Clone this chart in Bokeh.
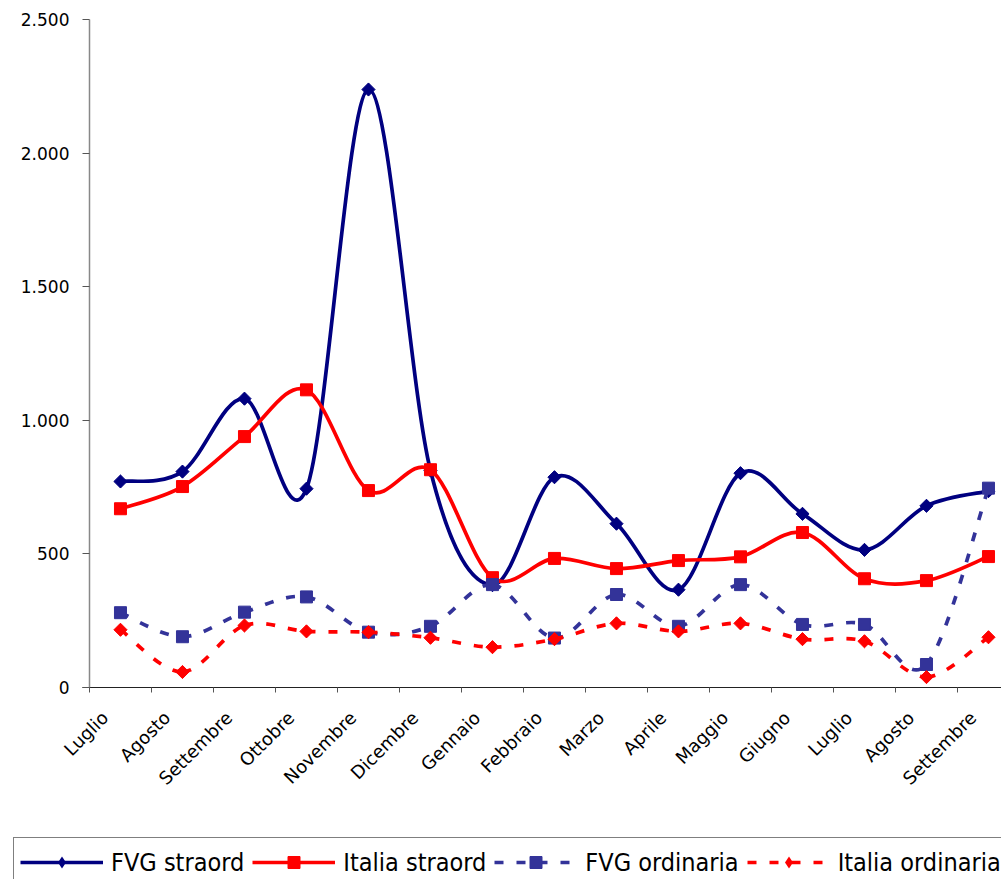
import math
import numpy as np
from bokeh.plotting import figure
from bokeh.models import Range1d, FixedTicker, Legend, LegendItem
from bokeh.embed import file_html
from bokeh.resources import INLINE

# ---- data ----
months = ["Luglio", "Agosto", "Settembre", "Ottobre", "Novembre", "Dicembre",
          "Gennaio", "Febbraio", "Marzo", "Aprile", "Maggio", "Giugno",
          "Luglio", "Agosto", "Settembre"]
fvg_straord = [771, 808, 1081, 744, 2238, 812, 383, 787, 613, 366, 802, 650, 515, 680, 735]
italia_straord = [669, 752, 939, 1114, 737, 815, 411, 483, 445, 475, 489, 580, 407, 400, 490]
fvg_ordinaria = [280, 190, 282, 339, 207, 229, 385, 185, 348, 229, 385, 236, 236, 86, 746]
italia_ordinaria = [216, 58, 232, 210, 207, 186, 151, 181, 240, 210, 240, 181, 173, 39, 188]
y_ticks = [0, 500, 1000, 1500, 2000, 2500]
y_tick_labels = ["0", "500", "1.000", "1.500", "2.000", "2.500"]

x_pos = [i + 0.5 for i in range(len(months))]
label_shift = -0.25  # rotated labels sit slightly left of the category centre
label_pos = [x + label_shift for x in x_pos]

W, H = 1001, 879
# frame covers the whole canvas; axes are pinned at x=0 / y=0
p = figure(width=W, height=H, output_backend="svg", toolbar_location=None,
           x_range=Range1d(-1.435, 14.71), y_range=Range1d(-718.6, 2571.1),
           min_border_left=0, min_border_right=0, min_border_top=0,
           min_border_bottom=0)
p.outline_line_color = None
p.grid.visible = False

FONT = "DejaVu Sans"

# x axis
xa = p.xaxis[0]
xa.fixed_location = 0
xa.bounds = (-0.115, 14.71)
xa.ticker = FixedTicker(ticks=label_pos, minor_ticks=list(range(len(months) + 1)))
xa.major_label_overrides = {x: m for x, m in zip(label_pos, months)}
xa.major_label_orientation = math.pi / 4
xa.major_tick_line_color = None
xa.major_tick_out = 0
xa.major_tick_in = 0
xa.minor_tick_in = 0
xa.minor_tick_out = 5
xa.minor_tick_line_color = "#555555"
xa.axis_line_color = "#222222"
xa.major_label_text_font = FONT
xa.major_label_text_font_size = "18px"
xa.major_label_text_color = "black"
xa.major_label_standoff = 22

# y axis
ya = p.yaxis[0]
ya.fixed_location = 0
ya.bounds = (0, 2500)
ya.ticker = FixedTicker(ticks=y_ticks, minor_ticks=[])
ya.major_label_overrides = {t: l for t, l in zip(y_ticks, y_tick_labels)}
ya.major_tick_in = 0
ya.major_tick_out = 7
ya.major_tick_line_color = "#555555"
ya.axis_line_color = "#888888"
ya.axis_line_width = 1.5
ya.major_label_text_font = FONT
ya.major_label_text_font_size = "17px"
ya.major_label_text_color = "black"
ya.major_label_standoff = 13


def bezier_data(xs, ys):
    P = np.column_stack([xs, ys]).astype(float)
    n = len(P)
    out = {k: [] for k in ("x0", "y0", "x1", "y1", "cx0", "cy0", "cx1", "cy1")}
    for i in range(n - 1):
        a, b = P[i], P[i + 1]
        pm = P[i - 1] if i > 0 else a
        pp = P[i + 2] if i + 2 < n else b
        c0 = a + (b - pm) / 6.0
        c1 = b - (pp - a) / 6.0
        out["x0"].append(a[0]); out["y0"].append(a[1])
        out["x1"].append(b[0]); out["y1"].append(b[1])
        out["cx0"].append(c0[0]); out["cy0"].append(c0[1])
        out["cx1"].append(c1[0]); out["cy1"].append(c1[1])
    return out


series = [
    ("FVG straord", fvg_straord, "#000080", "diamond", None),
    ("Italia straord", italia_straord, "#FF0000", "square", None),
    ("FVG ordinaria", fvg_ordinaria, "#333399", "square", "9 13"),
    ("Italia ordinaria", italia_ordinaria, "#FF0000", "diamond", "9 13"),
]

items = []
for name, vals, col, mk, dash in series:
    d = bezier_data(x_pos, vals)
    kw = dict(line_color=col, line_width=3.7)
    if dash:
        kw["line_dash"] = dash
    b = p.bezier(x0=d["x0"], y0=d["y0"], x1=d["x1"], y1=d["y1"],
                 cx0=d["cx0"], cy0=d["cy0"], cx1=d["cx1"], cy1=d["cy1"], **kw)
    if mk == "diamond":
        # equal-sided diamond in the plot (rotated square)
        p.scatter(x=x_pos, y=vals, marker="square", angle=math.pi / 4,
                  size=9.3, fill_color=col, line_color=col)
        # legend swatch marker (sits hidden inside the rotated square)
        s = p.scatter(x=x_pos, y=vals, marker="diamond", size=13,
                      fill_color=col, line_color=None)
    else:
        s = p.scatter(x=x_pos, y=vals, marker="square", size=12,
                      fill_color=col, line_color=col)
    items.append(LegendItem(label=name, renderers=[b, s]))

legend = Legend(items=items, orientation="horizontal", location=(13, -8),
                glyph_width=83, glyph_height=30, label_standoff=8, spacing=8,
                padding=6, margin=0, label_height=36,
                border_line_color="black", border_line_width=1,
                background_fill_color="white", background_fill_alpha=1,
                label_text_font="DejaVu Sans Condensed",
                label_text_font_size="25px", label_text_color="black")
p.add_layout(legend)

open("out.html", "w").write(file_html(p, INLINE))
